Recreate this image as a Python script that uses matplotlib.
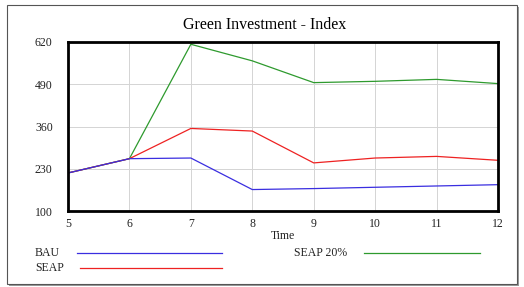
import matplotlib.pyplot as plt
from matplotlib.patches import Rectangle

time = [5, 6, 7, 8, 9, 10, 11, 12]
bau = [217, 261, 263, 166, 169, 173, 177, 181]
seap = [217, 261, 354, 346, 248, 263, 268, 256]
seap20 = [217, 261, 613, 562, 495, 499, 505, 492]
y_ticks = [100, 230, 360, 490, 620]

plt.rcParams['font.family'] = 'Liberation Serif'

fig = plt.figure(figsize=(5.24, 2.87), dpi=100)
W, H = 524, 287

# outer frame with a little shadow
fig.patches.append(Rectangle((9 / W, 1 - 286 / H), 510 / W, 279 / H, transform=fig.transFigure,
                             facecolor='#9a9a9a', edgecolor='none', zorder=0))
fig.patches.append(Rectangle((7 / W, 1 - 284 / H), 510 / W, 279 / H, transform=fig.transFigure,
                             facecolor='white', edgecolor='#555555', linewidth=0.8, zorder=1))

ax = fig.add_axes([68 / W, 1 - 211 / H, 430 / W, 169 / H])
ax.set_zorder(2)
ax.plot(time, seap20, color='#2e9a2e', linewidth=0.9)
ax.plot(time, seap, color='#ee2222', linewidth=0.9)
ax.plot(time, bau, color='#3a2ee0', linewidth=0.9)

ax.set_xlim(5, 12)
ax.set_ylim(100, 620)
ax.set_xticks(time)
ax.set_yticks(y_ticks)
ax.grid(True, color='#d4d4d4', linewidth=0.7)
ax.tick_params(length=0, labelsize=8.5, colors='#222222')
ax.tick_params(axis='y', pad=11)
ax.tick_params(axis='x', pad=5)
for s in ax.spines.values():
    s.set_linewidth(2)
ax.set_xlabel('Time', fontsize=8.5, labelpad=0, color='#222222')

fig.text(0.505, 1 - 25 / H, 'Green Investment - Index', ha='center', va='center', fontsize=11.5)

# legend drawn by hand like the original tool
def legend_entry(tx, lx0, lx1, y, label, color):
    fig.text(tx / W, 1 - y / H, label, fontsize=8.5, va='center', color='#222222')
    fig.lines.append(plt.Line2D([lx0 / W, lx1 / W], [1 - y / H, 1 - y / H],
                                transform=fig.transFigure, color=color, linewidth=0.9))

legend_entry(35, 77, 222, 253, 'BAU', '#3a2ee0')
legend_entry(35, 80, 222, 268, 'SEAP', '#ee2222')
legend_entry(294, 364, 480, 253, 'SEAP 20%', '#2e9a2e')

fig.savefig('out.png', dpi=100)
